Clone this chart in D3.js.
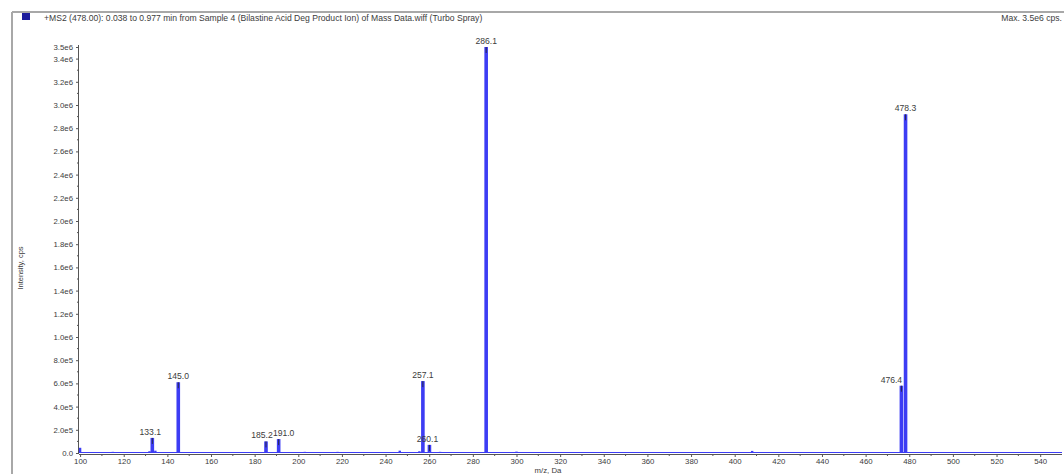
<!DOCTYPE html>
<html>
<head>
<meta charset="utf-8">
<script src="https://cdn.jsdelivr.net/npm/d3@7"></script>
<style>
  html, body { margin: 0; padding: 0; background: #fff; }
  svg { display: block; font-family: "Liberation Sans", Arial, sans-serif; }
</style>
</head>
<body>
<svg id="chart" width="1064" height="474"></svg>
<script>
// Labelled peaks of the MS2 spectrum (m/z, intensity in cps)
const peakMz = [133.1, 145.0, 185.2, 191.0, 257.1, 260.1, 286.1, 476.4, 478.3];
const peakIntensity = [1.3e5, 6.1e5, 1.0e5, 1.2e5, 6.2e5, 0.7e5, 3.5e6, 5.8e5, 2.92e6];
const peakLabels = ["133.1", "145.0", "185.2", "191.0", "257.1", "260.1", "286.1", "476.4", "478.3"];

// Small unlabelled signals close to the baseline
const minorMz = [100.0, 115.0, 131.8, 134.5, 160.0, 172.0, 203.0, 212.0, 218.0, 225.0, 236.0, 246.5, 255.5, 265.0, 273.0, 288.0, 300.0, 408.0, 420.0];
const minorIntensity = [4.5e4, 1.0e4, 1.5e4, 2.0e4, 0.8e4, 0.8e4, 1.0e4, 0.8e4, 1.0e4, 0.8e4, 0.8e4, 2.0e4, 1.5e4, 1.0e4, 0.8e4, 0.8e4, 1.2e4, 1.8e4, 0.8e4];

// Axis ticks
const xTicks = [100, 120, 140, 160, 180, 200, 220, 240, 260, 280, 300, 320, 340, 360, 380, 400, 420, 440, 460, 480, 500, 520, 540];
const yTicks = [0, 2e5, 4e5, 6e5, 8e5, 1.0e6, 1.2e6, 1.4e6, 1.6e6, 1.8e6, 2.0e6, 2.2e6, 2.4e6, 2.6e6, 2.8e6, 3.0e6, 3.2e6, 3.4e6, 3.5e6];
const yTickLabels = ["0.0", "2.0e5", "4.0e5", "6.0e5", "8.0e5", "1.0e6", "1.2e6", "1.4e6", "1.6e6", "1.8e6", "2.0e6", "2.2e6", "2.4e6", "2.6e6", "2.8e6", "3.0e6", "3.2e6", "3.4e6", "3.5e6"];

const titleText = "+MS2 (478.00): 0.038 to 0.977 min from Sample 4 (Bilastine Acid Deg Product Ion) of Mass Data.wiff (Turbo Spray)";
const maxText = "Max. 3.5e6 cps.";

const svg = d3.select("#chart");
const traceColor = "#3d3df4";
const inkColor = "#3c3c3c";

const x = d3.scaleLinear().domain([99.5, 550]).range([79, 1062]);
const y = d3.scaleLinear().domain([0, 3.5e6]).range([453, 47]);

// Panel frame (top and left edges)
svg.append("line").attr("x1", 12).attr("x2", 1064).attr("y1", 12).attr("y2", 12)
  .attr("stroke", "#a8a8a8").attr("stroke-width", 2);
svg.append("line").attr("x1", 12).attr("x2", 12).attr("y1", 12).attr("y2", 474)
  .attr("stroke", "#a8a8a8").attr("stroke-width", 2);

// Header: trace marker, description, maximum
svg.append("rect").attr("x", 22).attr("y", 13).attr("width", 8).attr("height", 7).attr("fill", "#1c1c9c");
svg.append("text").attr("x", 44).attr("y", 21).attr("font-size", 8.6).attr("fill", inkColor).text(titleText);
svg.append("text").attr("x", 1062).attr("y", 21).attr("text-anchor", "end").attr("font-size", 8.6).attr("fill", inkColor).text(maxText);

// Y axis
const yAxis = d3.axisLeft(y).tickValues(yTicks).tickSize(3).tickPadding(3)
  .tickFormat((d, i) => yTickLabels[i]);
const gy = svg.append("g").attr("transform", "translate(79,0)").call(yAxis);
gy.select(".domain").attr("stroke", "#555").attr("d", `M-0.5,${y(3.5e6) - 2}V${y(0) + 1}`);
gy.selectAll(".tick line").attr("stroke", "#555");
gy.selectAll(".tick text").attr("font-size", 7.8).attr("fill", inkColor).attr("font-family", "Liberation Sans, Arial, sans-serif");
// Minor y ticks
svg.append("g").selectAll("line").data(d3.range(1e5, 3.5e6, 2e5)).join("line")
  .attr("x1", 77).attr("x2", 79).attr("y1", d => y(d)).attr("y2", d => y(d)).attr("stroke", "#555");

// X axis
const xAxis = d3.axisBottom(x).tickValues(xTicks).tickSize(3).tickPadding(1).tickFormat(d3.format("d"));
const gx = svg.append("g").attr("transform", "translate(0,454)").call(xAxis);
gx.select(".domain").attr("stroke", "#555").attr("d", `M79,0.5H1062`);
gx.selectAll(".tick line").attr("stroke", "#555");
gx.selectAll(".tick text").attr("font-size", 7.8).attr("fill", inkColor).attr("font-family", "Liberation Sans, Arial, sans-serif");
// Minor x ticks
svg.append("g").selectAll("line").data(d3.range(110, 550, 20)).join("line")
  .attr("x1", d => x(d)).attr("x2", d => x(d)).attr("y1", 454).attr("y2", 456).attr("stroke", "#555");

// Axis titles
svg.append("text").attr("transform", `translate(23,${268}) rotate(-90)`).attr("text-anchor", "middle")
  .attr("font-size", 7.5).attr("fill", inkColor).text("Intensity, cps");
svg.append("text").attr("x", 548).attr("y", 473).attr("text-anchor", "middle")
  .attr("font-size", 7.8).attr("fill", inkColor).text("m/z, Da");

// Spectrum baseline
svg.append("line").attr("x1", x(99.5)).attr("x2", x(550)).attr("y1", 452.5).attr("y2", 452.5)
  .attr("stroke", traceColor).attr("stroke-width", 1.2);

// Minor signals
svg.append("g").selectAll("rect").data(minorMz).join("rect")
  .attr("x", d => x(d) - 1.2).attr("width", 2.4)
  .attr("y", (d, i) => y(minorIntensity[i])).attr("height", (d, i) => y(0) - y(minorIntensity[i]))
  .attr("fill", traceColor);

// Labelled peaks
svg.append("g").selectAll("rect").data(peakMz).join("rect")
  .attr("x", d => x(d) - 1.8).attr("width", 3.6)
  .attr("y", (d, i) => y(peakIntensity[i])).attr("height", (d, i) => y(0) - y(peakIntensity[i]))
  .attr("fill", traceColor);

// Centroid marks over the tallest part of each peak
svg.append("g").selectAll("line").data(peakMz).join("line")
  .attr("x1", d => x(d)).attr("x2", d => x(d))
  .attr("y1", (d, i) => y(peakIntensity[i]))
  .attr("y2", (d, i) => y(peakIntensity[i]) + 6)
  .attr("stroke", "#222").attr("stroke-width", 0.8);

// Peak labels
const labelShift = [-2, 0, -4, 5, 0, -2, 0, -10, 0];
svg.append("g").selectAll("text").data(peakMz).join("text")
  .attr("x", (d, i) => x(d) + labelShift[i])
  .attr("y", (d, i) => y(peakIntensity[i]) - 3)
  .attr("text-anchor", "middle").attr("font-size", 8.6).attr("fill", inkColor)
  .text((d, i) => peakLabels[i]);
</script>
</body>
</html>
